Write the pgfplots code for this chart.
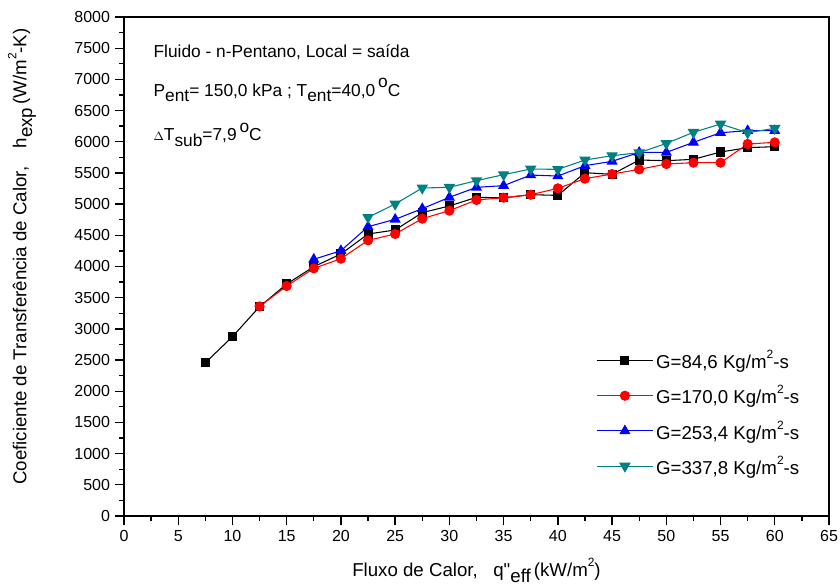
\documentclass[border=0pt]{standalone}
\usepackage{fontspec}
\setmainfont{Liberation Sans}
\usepackage{pgfplots}
\pgfplotsset{compat=1.18}
\definecolor{tealc}{RGB}{0,128,128}
\newcommand{\sq}{\raisebox{1ex}{\small 2}}
\newcommand{\dg}{\,\raisebox{0.9ex}{o}}
\begin{document}
\begin{tikzpicture}
\begin{axis}[
  scale only axis,
  width=528.75pt, height=374.25pt,
  xmin=0, xmax=65, ymin=0, ymax=8000,
  xtick={0,5,...,65}, ytick={0,500,...,8000},
  minor x tick num=1, minor y tick num=1,
  tick pos=left, tick align=outside,
  major tick length=7pt, minor tick length=3.5pt,
  every tick/.style={black, line width=1pt},
  axis line style={line width=1.3pt},
  font=\fontsize{13}{15.6}\selectfont,
  tick label style={font=\fontsize{12}{14}\selectfont},
  label style={font=\fontsize{14}{16.8}\selectfont},
  /pgf/number format/assume math mode=true,
  /pgf/number format/1000 sep={},
  xlabel={Fluxo de Calor,\ \ \ q\textquotedbl\raisebox{-0.6ex}{eff}\,(kW/m\sq)},
  xlabel style={at={(axis description cs:0.5,-0.122)}, anchor=base},
  ylabel={Coeficiente de Transferência de Calor,\quad h\raisebox{-0.6ex}{exp}\,(W/m\sq-K)},
  ylabel style={at={(axis description cs:-0.118,0.52)}, anchor=south},
  legend style={draw=none, fill=none, at={(axis description cs:0.664,0.343)}, anchor=north west, row sep=7.2pt, font=\fontsize{14}{16.8}\selectfont},
  legend cell align=left,
  legend image code/.code={\draw[mark repeat=2,mark phase=2] plot coordinates {(0pt,0pt) (21pt,0pt) (42pt,0pt)};},
]
\addplot[black, line width=0.8pt, mark=square*, mark size=3pt] coordinates {
(7.5,2457)(10,2875)(12.5,3356)(15,3719)(17.5,3997)(20,4200)(22.5,4521)(25,4585)
(27.5,4863)(30,4970)(32.5,5109)(35,5100)(37.5,5151)(40,5140)(42.5,5504)(45,5477)
(47.5,5707)(50,5696)(52.5,5718)(55,5835)(57.5,5905)(60,5921)};
\addlegendentry{G=84,6 Kg/m\sq-s}
\addplot[red, line width=0.8pt, mark=*, mark size=3.4pt] coordinates {
(12.5,3360)(15,3687)(17.5,3970)(20,4125)(22.5,4419)(25,4521)(27.5,4767)(30,4895)
(32.5,5066)(35,5103)(37.5,5151)(40,5253)(42.5,5408)(45,5482)(47.5,5557)(50,5643)
(52.5,5664)(55,5664)(57.5,5964)(60,5990)};
\addlegendentry{G=170,0 Kg/m\sq-s}
\addplot[blue, line width=0.8pt, mark=triangle*, mark size=4pt] coordinates {
(17.5,4115)(20,4253)(22.5,4638)(25,4756)(27.5,4927)(30,5109)(32.5,5269)(35,5296)
(37.5,5466)(40,5450)(42.5,5616)(45,5686)(47.5,5829)(50,5829)(52.5,5990)(55,6145)
(57.5,6177)(60,6177)};
\addlegendentry{G=253,4 Kg/m\sq-s}
\addplot[tealc, line width=0.8pt, mark=triangle*, mark options={rotate=180}, mark size=4.2pt] coordinates {
(22.5,4788)(25,5002)(27.5,5258)(30,5269)(32.5,5376)(35,5472)(37.5,5563)(40,5557)
(42.5,5707)(45,5776)(47.5,5824)(50,5973)(52.5,6151)(55,6284)(57.5,6145)(60,6215)};
\addlegendentry{G=337,8 Kg/m\sq-s}
\node[anchor=base west] at (axis cs:2.3,7358) {Fluido - n-Pentano, Local = saída};
\node[anchor=base west] at (axis cs:2.3,6733) {P\raisebox{-0.6ex}{ent}= 150,0 kPa ; T\raisebox{-0.6ex}{ent}=40,0\dg C};
\node[anchor=base west] at (axis cs:2.3,6016) {$\scriptstyle\Delta$T\raisebox{-0.6ex}{sub}=7,9\dg C};
\end{axis}
\pgfresetboundingbox
\path ([xshift=-93pt,yshift=-51.75pt]current axis.south west) rectangle ([xshift=8.25pt,yshift=12.75pt]current axis.north east);
\end{tikzpicture}
\end{document}
